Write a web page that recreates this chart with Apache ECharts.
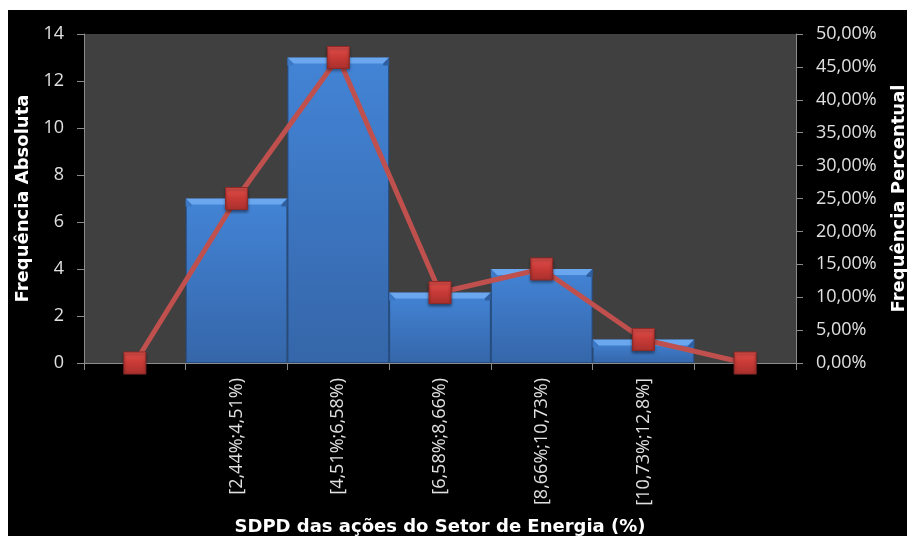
<!DOCTYPE html>
<html>
<head>
<meta charset="utf-8">
<script src="https://cdn.jsdelivr.net/npm/echarts@6/dist/echarts.min.js"></script>
<style>
  html, body { margin: 0; padding: 0; background: #ffffff; }
  #chart { position: absolute; left: 8px; top: 10px; width: 899px; height: 526px; background: #000000; }
</style>
</head>
<body>
<div id="chart"></div>
<script>
// Class intervals (first and last slots are empty padding classes)
const categories = ['', '[2,44%;4,51%)', '[4,51%;6,58%)', '[6,58%;8,66%)', '[8,66%;10,73%)', '[10,73%;12,8%]', ''];
// Absolute frequency per class
const absoluteFreq = ['-', 7, 13, 3, 4, 1, '-'];
// Relative frequency per class, in percent
const percentFreq = [0, 25.00, 46.43, 10.71, 14.29, 3.57, 0];

const leftTicks = { min: 0, max: 14, interval: 2 };
const rightTicks = { min: 0, max: 50, interval: 5 };

const tickFont = '"Open Sans", sans-serif';
const titleFont = '"DejaVu Sans", sans-serif';

const chart = echarts.init(document.getElementById('chart'));

// Lighter bevel strip along the top of each column
function bevelTop(params, api) {
  const v = api.value(1);
  if (v === '-' || v == null || isNaN(v)) return null;
  const top = api.coord([api.value(0), v]);
  const w = api.size([1, 0])[0];
  const x0 = top[0] - w / 2, x1 = top[0] + w / 2;
  const y = top[1], d = 6;
  return {
    type: 'group',
    children: [
      {
        type: 'polygon',
        shape: { points: [[x0, y], [x1, y], [x1 - d, y + d], [x0 + d, y + d]] },
        style: { fill: '#6aa7ee' }
      },
      {
        type: 'polygon',
        shape: { points: [[x0, y], [x0 + d, y + d], [x0 + d, y + d + 2], [x0, y + d + 2]] },
        style: { fill: '#3d78c4' }
      },
      {
        type: 'polygon',
        shape: { points: [[x1, y], [x1 - d, y + d], [x1 - d, y + d + 2], [x1, y + d + 2]] },
        style: { fill: '#2f5f9f' }
      }
    ]
  };
}

chart.setOption({
  animation: false,
  backgroundColor: '#000000',
  grid: {
    left: 76, right: 111, top: 24, bottom: 173,
    outerBoundsMode: 'none',
    containLabel: false,
    show: true, backgroundColor: '#404040', borderWidth: 0
  },
  xAxis: {
    type: 'category',
    data: categories,
    boundaryGap: true,
    name: 'SDPD das ações do Setor de Energia (%)',
    nameLocation: 'middle',
    nameGap: 155,
    nameTextStyle: { color: '#ffffff', fontFamily: titleFont, fontWeight: 'bold', fontSize: 18 },
    axisLine: { show: true, lineStyle: { color: '#8c8c8c', width: 1 } },
    axisTick: { show: true, alignWithLabel: false, length: 7, lineStyle: { color: '#8c8c8c' } },
    axisLabel: {
      interval: 0, rotate: 90, margin: 15,
      color: '#e0e0e0', fontFamily: tickFont, fontSize: 18
    },
    splitLine: { show: false }
  },
  yAxis: [
    {
      type: 'value',
      min: leftTicks.min, max: leftTicks.max, interval: leftTicks.interval,
      position: 'left',
      name: 'Frequência Absoluta',
      nameLocation: 'middle',
      nameGap: 51,
      nameTextStyle: { color: '#ffffff', fontFamily: titleFont, fontWeight: 'bold', fontSize: 18 },
      axisLine: { show: true, lineStyle: { color: '#8c8c8c' } },
      axisTick: { show: true, length: 7, lineStyle: { color: '#8c8c8c' } },
      axisLabel: { color: '#e0e0e0', fontFamily: tickFont, fontSize: 18, margin: 20 },
      splitLine: { show: false }
    },
    {
      type: 'value',
      min: rightTicks.min, max: rightTicks.max, interval: rightTicks.interval,
      position: 'right',
      name: 'Frequência Percentual',
      nameLocation: 'middle',
      nameGap: 94,
      nameRotate: 90,
      nameTextStyle: { color: '#ffffff', fontFamily: titleFont, fontWeight: 'bold', fontSize: 18 },
      axisLine: { show: true, lineStyle: { color: '#8c8c8c' } },
      axisTick: { show: true, length: 7, lineStyle: { color: '#8c8c8c' } },
      axisLabel: {
        color: '#e0e0e0', fontFamily: tickFont, fontSize: 18, margin: 20,
        formatter: v => v.toFixed(2).replace('.', ',') + '%'
      },
      splitLine: { show: false }
    }
  ],
  series: [
    {
      name: 'Frequência Absoluta',
      type: 'bar',
      yAxisIndex: 0,
      data: absoluteFreq,
      barWidth: '100%',
      barGap: '-100%',
      itemStyle: {
        color: new echarts.graphic.LinearGradient(0, 0, 0, 1, [
          { offset: 0, color: '#4384d6' },
          { offset: 1, color: '#3566a9' }
        ]),
        borderColor: '#254d82',
        borderWidth: 1
      },
      z: 2
    },
    {
      name: 'bevel',
      type: 'custom',
      yAxisIndex: 0,
      data: absoluteFreq.map((v, i) => [i, v]),
      renderItem: bevelTop,
      silent: true,
      z: 3
    },
    {
      name: 'Frequência Percentual',
      type: 'line',
      yAxisIndex: 1,
      data: percentFreq,
      symbol: 'rect',
      symbolSize: 22,
      lineStyle: { color: '#c0504d', width: 5 },
      itemStyle: {
        color: new echarts.graphic.LinearGradient(0, 0, 0, 1, [
          { offset: 0, color: '#e0504c' },
          { offset: 0.5, color: '#c83a36' },
          { offset: 1, color: '#a8302d' }
        ]),
        borderColor: '#8e2a27',
        borderWidth: 1,
        shadowColor: 'rgba(0,0,0,0.45)',
        shadowBlur: 3,
        shadowOffsetY: 2
      },
      z: 5
    }
  ]
});
</script>
</body>
</html>
